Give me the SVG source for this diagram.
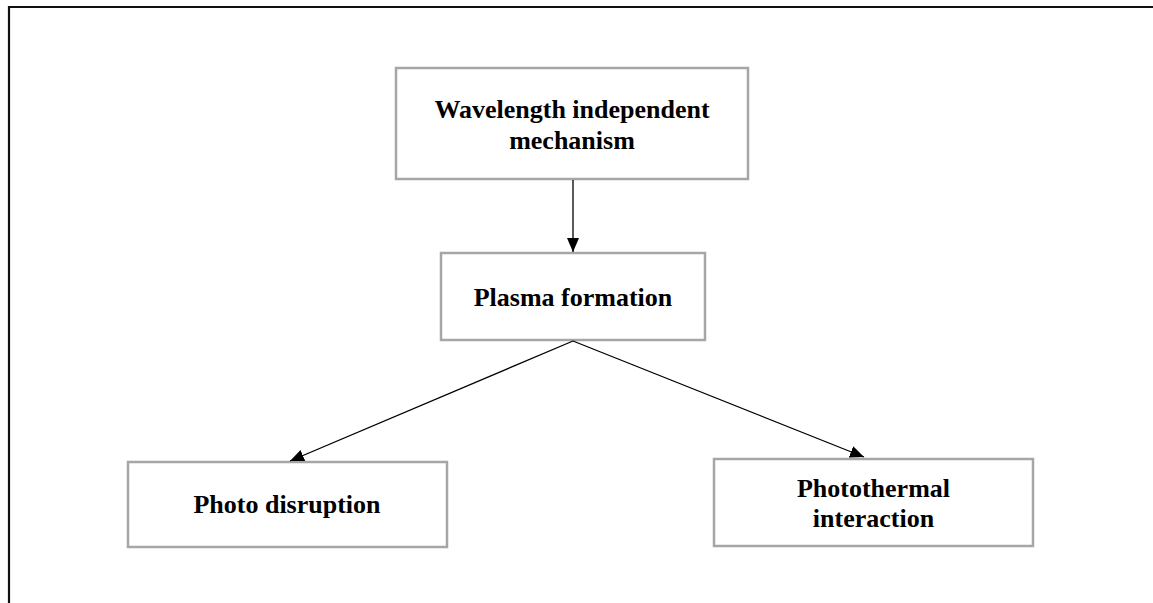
<svg xmlns="http://www.w3.org/2000/svg" width="1153" height="603" viewBox="0 0 1153 603">
<style>
.box{fill:#fff;stroke:#a6a6a6;stroke-width:2.5}
.t{font-family:"Liberation Serif","Times New Roman",serif;font-weight:bold;font-size:26px;fill:#000;text-anchor:middle}
.c{stroke:#000;stroke-width:1.3;fill:none}
</style>
<defs>
<marker id="ah" markerWidth="14" markerHeight="12" refX="14" refY="6" orient="auto" markerUnits="userSpaceOnUse" viewBox="0 0 14 12"><path d="M0,0 L14,6 L0,12 z" fill="#000"/></marker>
</defs>
<rect x="0" y="0" width="1153" height="603" fill="#fff"/>
<path d="M9,603 V7 H1153" fill="none" stroke="#111" stroke-width="2.2"/>
<g id="n1"><rect class="box" x="396" y="68" width="352" height="111"/><text class="t" x="572" y="118">Wavelength independent</text><text class="t" x="572" y="149">mechanism</text></g>
<g id="n2"><rect class="box" x="441" y="253" width="264" height="87"/><text class="t" x="573" y="306">Plasma formation</text></g>
<g id="n3"><rect class="box" x="128" y="462" width="319" height="85"/><text class="t" x="287" y="513">Photo disruption</text></g>
<g id="n4"><rect class="box" x="714" y="459" width="319" height="87"/><text class="t" x="873.5" y="497">Photothermal</text><text class="t" x="873.5" y="527">interaction</text></g>
<g id="connectors">
<line class="c" x1="573" y1="180" x2="573" y2="252" marker-end="url(#ah)"/>
<line class="c" x1="573" y1="341" x2="290" y2="461" marker-end="url(#ah)"/>
<line class="c" x1="573" y1="341" x2="864" y2="457" marker-end="url(#ah)"/>
</g>
</svg>
